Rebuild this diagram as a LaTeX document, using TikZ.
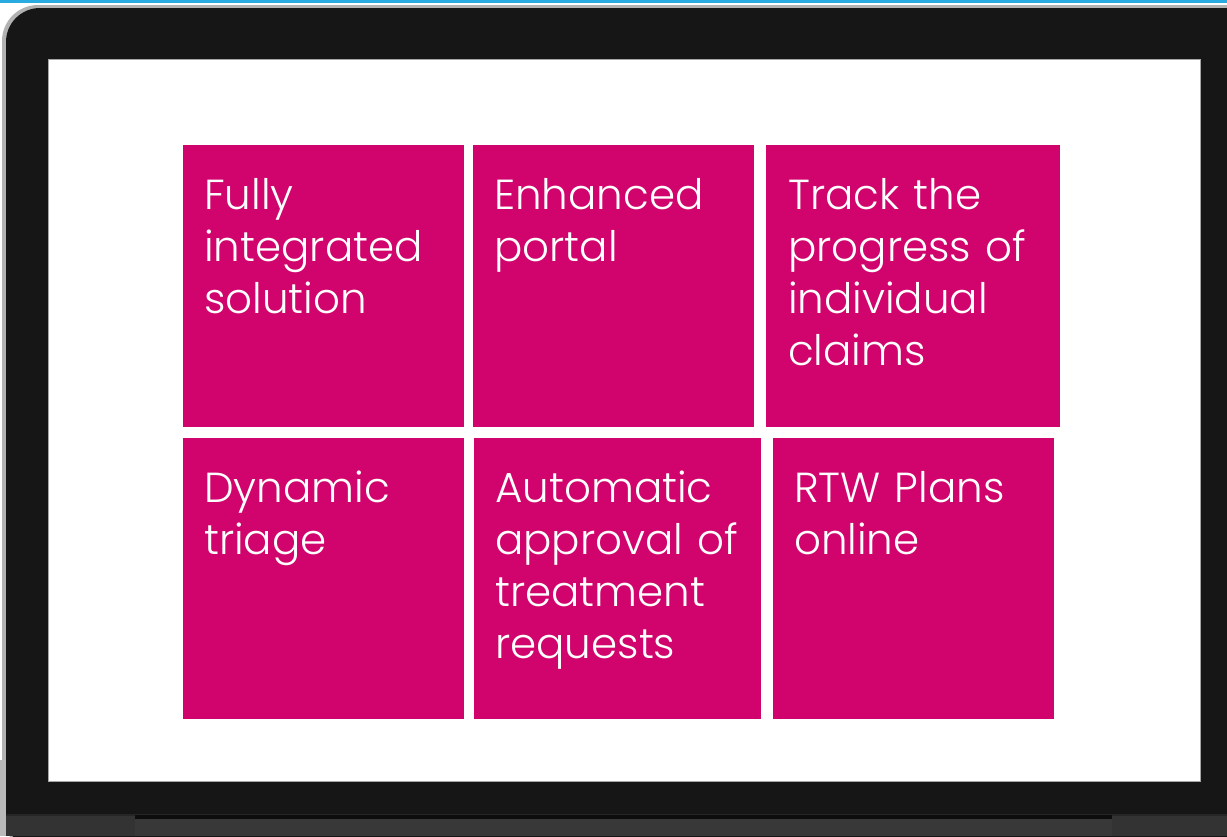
\documentclass[tikz,border=0pt]{standalone}
\usepackage{fontspec}
\setmainfont{Poppins}[UprightFont=* Light]
\definecolor{mag}{HTML}{D0046C}
\definecolor{bezel}{HTML}{161616}
\definecolor{cyanline}{HTML}{29ABE2}
\tikzset{
  tile/.style={fill=mag, draw=none, inner sep=0pt, outer sep=0pt},
  tiletext/.style={anchor=base west, inner sep=0pt, text=white, align=left, text width=280pt,
    font=\fontsize{42}{52}\selectfont},
}
\begin{document}
\begin{tikzpicture}[x=1pt,y=-1pt]
\useasboundingbox (0,0) rectangle (1227,836);
\fill[white] (0,0) rectangle (1227,836);
\fill[cyanline] (0,0) rectangle (1227,3);
% bezel
\fill[gray!60, rounded corners=36pt] (2,5) rectangle (1260,850);
\fill[bezel, rounded corners=34pt] (6,8) rectangle (1260,850);
\fill[black!85] (0,814) rectangle (1227,836);
\fill[gray!55] (0,760) rectangle (6,836);
\fill[black!80] (6,816) rectangle (1227,836);
\fill[black!95] (135,815) rectangle (1112,819);
\fill[black!78] (135,819) rectangle (1112,836);
% screen
\fill[white, draw=gray!70, line width=0.8pt] (48,59) rectangle (1200,781);
% tiles
\path[tile] (183,145) rectangle (464,427) node[pos=0.5] (b1) {};
\path[tile] (473,145) rectangle (754,427) node[pos=0.5] (b2) {};
\path[tile] (766,145) rectangle (1060,427) node[pos=0.5] (b3) {};
\path[tile] (183,438) rectangle (464,719) node[pos=0.5] (b4) {};
\path[tile] (474,438) rectangle (761,719) node[pos=0.5] (b5) {};
\path[tile] (773,438) rectangle (1054,719) node[pos=0.5] (b6) {};
\node[tiletext] (t1) at (204,209) {Fully\\integrated\\solution};
\node[tiletext] (t2) at (494,209) {Enhanced\\portal};
\node[tiletext] (t3) at (788,209) {Track the\\progress of\\individual\\claims};
\node[tiletext] (t4) at (204,502) {Dynamic\\triage};
\node[tiletext] (t5) at (495,502) {Automatic\\approval of\\treatment\\requests};
\node[tiletext] (t6) at (794,502) {RTW Plans\\online};
\end{tikzpicture}
\end{document}
